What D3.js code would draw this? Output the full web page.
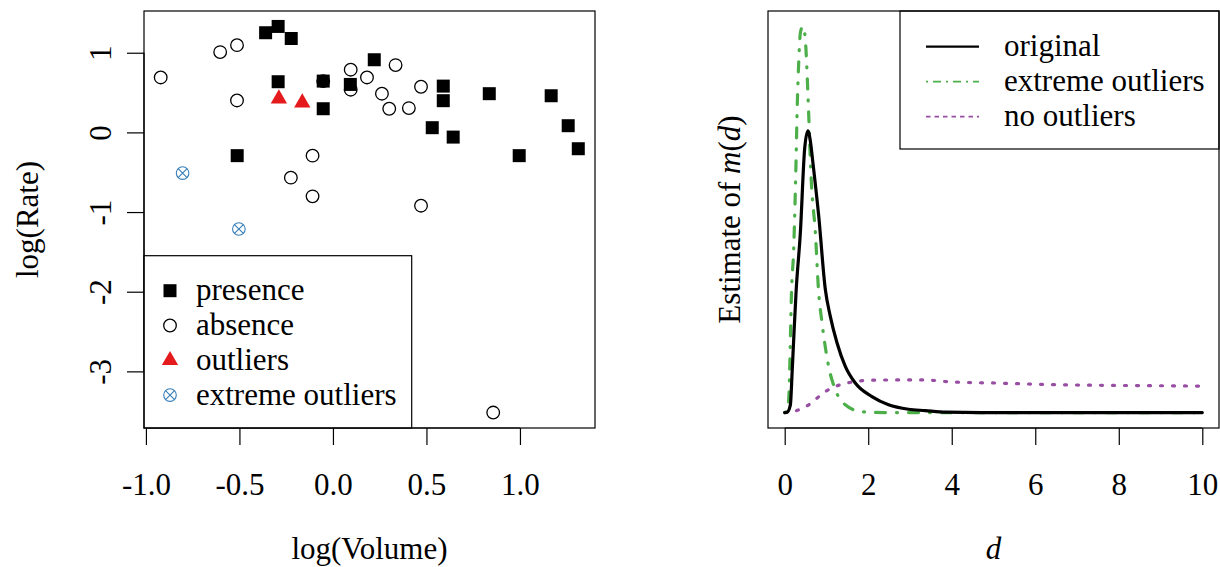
<!DOCTYPE html>
<html>
<head>
<meta charset="utf-8">
<script src="https://cdn.jsdelivr.net/npm/d3@7"></script>
<style>
  body { margin: 0; background: #fff; }
  svg { display: block; }
</style>
</head>
<body>
<svg id="chart" width="1220" height="567"></svg>
<script>
// left panel: log(Volume) / log(Rate)
const presenceX = [-0.360, -0.293, -0.223, -0.293, -0.052, -0.052, 0.093, 0.221, 0.590, 0.590, 0.836, 1.167, 0.531, 0.643, 1.258, 1.312, 0.996, -0.512];
const presenceY = [1.251, 1.330, 1.179, 0.636, 0.644, 0.297, 0.602, 0.912, 0.581, 0.398, 0.486, 0.460, 0.059, -0.059, 0.084, -0.205, -0.292, -0.292];
const absenceX = [-0.921, -0.603, -0.513, -0.513, -0.052, 0.095, 0.095, 0.182, 0.335, 0.262, 0.301, 0.406, 0.471, -0.109, -0.225, -0.109, 0.471, 0.857];
const absenceY = [0.690, 1.008, 1.095, 0.401, 0.644, 0.787, 0.536, 0.690, 0.845, 0.486, 0.297, 0.305, 0.573, -0.292, -0.568, -0.803, -0.920, -3.517];
const outlierX = [-0.289, -0.164];
const outlierY = [0.423, 0.373];
const extremeX = [-0.804, -0.503];
const extremeY = [-0.511, -1.213];

// right panel: estimated m(d) curves (arbitrary units)
const origD = [0, 0.057, 0.136, 0.177, 0.215, 0.272, 0.375, 0.478, 0.555, 0.614, 0.669, 0.813, 0.973, 1.092, 1.252, 1.451, 1.690, 2.089, 2.486, 2.964, 3.363, 3.86, 5, 7, 10];
const origM = [0, 0.001, 0.020, 0.102, 0.188, 0.310, 0.464, 0.680, 0.726, 0.700, 0.650, 0.508, 0.317, 0.248, 0.180, 0.119, 0.076, 0.041, 0.020, 0.0085, 0.005, 0.001, 0, 0, 0];
const extD = [0, 0.057, 0.096, 0.136, 0.160, 0.215, 0.272, 0.296, 0.335, 0.375, 0.430, 0.478, 0.574, 0.614, 0.638, 0.734, 0.813, 0.894, 1.052, 1.212, 1.451, 1.850, 2.41, 5, 10];
const extM = [0, 0.007, 0.033, 0.188, 0.300, 0.421, 0.650, 0.771, 0.901, 0.978, 0.995, 0.978, 0.771, 0.650, 0.594, 0.464, 0.310, 0.231, 0.119, 0.059, 0.020, 0.002, 0, 0, 0];
const noD = [0, 0.256, 0.574, 0.973, 1.212, 1.530, 2.008, 2.567, 3.363, 3.96, 5.076, 6.429, 7.863, 9.14, 10];
const noM = [0, 0.004, 0.020, 0.054, 0.067, 0.077, 0.083, 0.084, 0.084, 0.079, 0.076, 0.072, 0.070, 0.069, 0.068];

const xTicksL = [-1.0, -0.5, 0.0, 0.5, 1.0];
const yTicksL = [-3, -2, -1, 0, 1];
const xTicksR = [0, 2, 4, 6, 8, 10];

const leftLabels = ["presence", "absence", "outliers", "extreme outliers"];
const rightLabels = ["original", "extreme outliers", "no outliers"];

const blue = "#377eb8", red = "#e41a1c", green = "#4daf4a", purple = "#984ea3";
const fs = 31;
const serif = "'Liberation Serif', 'DejaVu Serif', serif";

const svg = d3.select("#chart");
const yTop = 11, yBot = 428;
const boxL = { x0: 144, x1: 595 }, boxR = { x0: 768, x1: 1219 };

// R style 4% padding
function padded(vals) {
  const [a, b] = d3.extent(vals);
  const p = (b - a) * 0.04;
  return [a - p, b + p];
}

const xL = d3.scaleLinear().domain(padded(presenceX.concat(absenceX, outlierX, extremeX))).range([boxL.x0, boxL.x1]);
const yL = d3.scaleLinear().domain(padded(presenceY.concat(absenceY, outlierY, extremeY))).range([yBot, yTop]);
const xR = d3.scaleLinear().domain(padded([0, 10])).range([boxR.x0, boxR.x1]);
const yR = d3.scaleLinear().domain(padded(origM.concat(extM, noM))).range([yBot, yTop]);

function label(sel) {
  return sel.style("font-family", serif).style("font-size", fs + "px").attr("fill", "#000");
}

// ---------- axes ----------
function bottomAxis(scale, ticks, fmt) {
  const g = svg.append("g").attr("transform", `translate(0,${yBot})`)
    .call(d3.axisBottom(scale).tickValues(ticks).tickFormat(fmt).tickSize(17).tickSizeOuter(0).tickPadding(28));
  g.select(".domain").remove();
  g.append("line")
    .attr("x1", scale(ticks[0])).attr("x2", scale(ticks[ticks.length - 1]))
    .attr("stroke", "#000").attr("stroke-width", 1.2);
  g.selectAll(".tick line").attr("stroke-width", 1.2);
  g.selectAll("text").call(label);
}
bottomAxis(xL, xTicksL, d => d.toFixed(1));
bottomAxis(xR, xTicksR, d => String(d));

const gy = svg.append("g").attr("transform", `translate(${boxL.x0},0)`)
  .call(d3.axisLeft(yL).tickValues(yTicksL).tickFormat(d => String(d)).tickSize(17).tickSizeOuter(0));
gy.select(".domain").remove();
gy.append("line")
  .attr("y1", yL(yTicksL[0])).attr("y2", yL(yTicksL[yTicksL.length - 1]))
  .attr("stroke", "#000").attr("stroke-width", 1.2);
gy.selectAll(".tick line").attr("stroke-width", 1.2);
gy.selectAll("text")
  .attr("x", 0).attr("dy", "0.35em")
  .attr("text-anchor", "middle")
  .attr("transform", "translate(-44,0) rotate(-90)")
  .call(label);

// axis titles
svg.append("text").attr("x", (boxL.x0 + boxL.x1) / 2).attr("y", 559)
  .attr("text-anchor", "middle").call(label).text("log(Volume)");
svg.append("text").attr("x", (boxR.x0 + boxR.x1) / 2).attr("y", 559)
  .attr("text-anchor", "middle").call(label).style("font-style", "italic").text("d");
svg.append("text").attr("transform", `translate(38,${(yTop + yBot) / 2}) rotate(-90)`)
  .attr("text-anchor", "middle").call(label).text("log(Rate)");
const yt = svg.append("text").attr("transform", `translate(740,${(yTop + yBot) / 2}) rotate(-90)`)
  .attr("text-anchor", "middle").call(label);
yt.append("tspan").text("Estimate of ");
yt.append("tspan").style("font-style", "italic").text("m");
yt.append("tspan").text("(");
yt.append("tspan").style("font-style", "italic").text("d");
yt.append("tspan").text(")");

// ---------- left panel points ----------
const sq = d3.symbol().type(d3.symbolSquare).size(169);
const tri = d3.symbol().type(d3.symbolTriangle).size(115);

function drawPresence(g, x, y) {
  g.append("path").attr("d", sq()).attr("transform", `translate(${x},${y})`).attr("fill", "#000");
}
function drawAbsence(g, x, y) {
  g.append("circle").attr("cx", x).attr("cy", y).attr("r", 6.3)
    .attr("fill", "none").attr("stroke", "#000").attr("stroke-width", 1.3);
}
function drawOutlier(g, x, y) {
  g.append("path").attr("d", tri()).attr("transform", `translate(${x},${y})`).attr("fill", red);
}
function drawExtreme(g, x, y) {
  const r = 6.3, k = r / Math.SQRT2;
  g.append("circle").attr("cx", x).attr("cy", y).attr("r", r)
    .attr("fill", "none").attr("stroke", blue).attr("stroke-width", 1.1);
  g.append("path").attr("d", `M${x - k},${y - k}L${x + k},${y + k}M${x - k},${y + k}L${x + k},${y - k}`)
    .attr("stroke", blue).attr("stroke-width", 1.1);
}

const pts = svg.append("g");
absenceX.forEach((v, i) => drawAbsence(pts, xL(v), yL(absenceY[i])));
presenceX.forEach((v, i) => drawPresence(pts, xL(v), yL(presenceY[i])));
outlierX.forEach((v, i) => drawOutlier(pts, xL(v), yL(outlierY[i])));
extremeX.forEach((v, i) => drawExtreme(pts, xL(v), yL(extremeY[i])));

// left legend
const legL = svg.append("g");
legL.append("rect").attr("x", boxL.x0).attr("y", 255.7).attr("width", 411.7 - boxL.x0).attr("height", yBot - 255.7)
  .attr("fill", "#fff").attr("stroke", "#000").attr("stroke-width", 1.2);
const drawers = [drawPresence, drawAbsence, drawOutlier, drawExtreme];
leftLabels.forEach((lab, i) => {
  const ry = 290.7 + i * 34.8;
  drawers[i](legL, 170, ry);
  legL.append("text").attr("x", 196).attr("y", ry + 9.5).call(label).text(lab);
});

// ---------- right panel curves ----------
svg.append("clipPath").attr("id", "clipR").append("rect")
  .attr("x", boxR.x0).attr("y", yTop).attr("width", boxR.x1 - boxR.x0).attr("height", yBot - yTop);

const line = d3.line().x(d => xR(d[0])).y(d => yR(d[1])).curve(d3.curveMonotoneX);
const curves = svg.append("g").attr("clip-path", "url(#clipR)");
curves.append("path").datum(noD.map((d, i) => [d, noM[i]])).attr("d", line)
  .attr("fill", "none").attr("stroke", purple).attr("stroke-width", 3.2)
  .attr("stroke-linecap", "round").attr("stroke-dasharray", "2,10");
curves.append("path").datum(extD.map((d, i) => [d, extM[i]])).attr("d", line)
  .attr("fill", "none").attr("stroke", green).attr("stroke-width", 3.2)
  .attr("stroke-linecap", "round").attr("stroke-dasharray", "1,11,10,11");
curves.append("path").datum(origD.map((d, i) => [d, origM[i]])).attr("d", line)
  .attr("fill", "none").attr("stroke", "#000").attr("stroke-width", 3.2)
  .attr("stroke-linecap", "round");

// right legend
const legR = svg.append("g");
legR.append("rect").attr("x", 900).attr("y", yTop).attr("width", boxR.x1 - 900).attr("height", 149 - yTop)
  .attr("fill", "#fff").attr("stroke", "#000").attr("stroke-width", 1.2);
const legStyles = [
  { c: "#000", dash: null, w: 2.2 },
  { c: green, dash: "2,5,8,5", w: 1.8 },
  { c: purple, dash: "4.5,4", w: 1.8 }
];
rightLabels.forEach((lab, i) => {
  const ry = 46.7 + i * 35;
  const s = legStyles[i];
  legR.append("line").attr("x1", 926).attr("x2", 979).attr("y1", ry).attr("y2", ry)
    .attr("stroke", s.c).attr("stroke-width", s.w).attr("stroke-dasharray", s.dash);
  legR.append("text").attr("x", 1004).attr("y", ry + 9.5).call(label).text(lab);
});

// plot boxes
[boxL, boxR].forEach(b => {
  svg.append("rect").attr("x", b.x0).attr("y", yTop).attr("width", b.x1 - b.x0).attr("height", yBot - yTop)
    .attr("fill", "none").attr("stroke", "#000").attr("stroke-width", 1.2);
});
</script>
</body>
</html>
